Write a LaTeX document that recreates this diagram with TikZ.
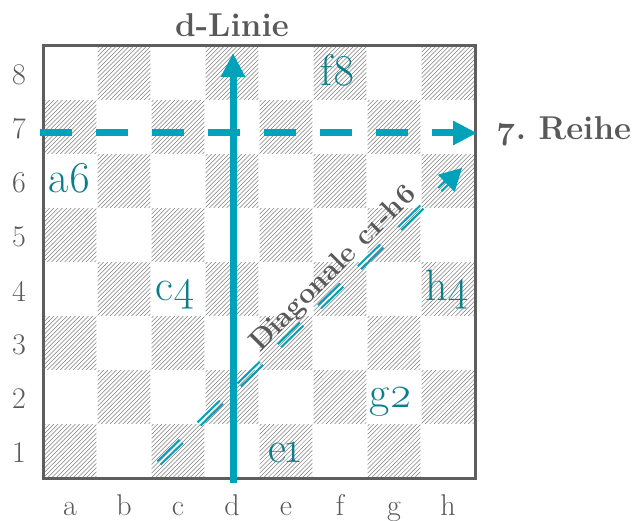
\documentclass[tikz,border=0pt]{standalone}
\usepackage{fontspec}
\setmainfont{Latin Modern Roman}
\newfontfamily\osf{Latin Modern Roman}[Numbers=OldStyle]
\usetikzlibrary{arrows.meta,calc}
\definecolor{boardgray}{HTML}{5E5E5E}
\definecolor{txtgray}{HTML}{595959}
\definecolor{hatchgray}{HTML}{808080}
\definecolor{arrowteal}{HTML}{00A2B9}
\definecolor{labelteal}{HTML}{0B7E8B}
\tikzset{
  hatchline/.style={draw=hatchgray, line width=0.5pt},
  sqlabel/.style={text=labelteal, font=\osf\fontsize{44}{44}\selectfont, inner sep=0pt, anchor=base},
  coordlabel/.style={text=txtgray, font=\fontsize{30}{30}\selectfont, inner sep=0pt},
  heading/.style={text=txtgray, font=\bfseries\fontsize{33}{33}\selectfont, inner sep=0pt, anchor=base},
  diaglabel/.style={text=txtgray, font=\bfseries\osf\fontsize{28.5}{28.5}\selectfont, inner sep=0pt, anchor=base, rotate=45},
  bigarrow/.style={draw=arrowteal, line width=7pt, -{Triangle[length=24pt,width=23pt]}},
  diagline/.style={draw=arrowteal, line width=2pt, dash pattern=on 31pt off 25pt},
}
\begin{document}
\begin{tikzpicture}[x=1pt,y=-1pt]
\useasboundingbox[fill=white] (0,0) rectangle (632,521);
% hatched dark squares (a1 dark)
\foreach \i in {0,...,7}{
  \foreach \r in {1,...,8}{
    \pgfmathtruncatemacro\sqpar{mod(\i+\r,2)}
    \ifnum\sqpar=1
      \pgfmathsetmacro\xo{43+54*\i}
      \pgfmathsetmacro\yo{46+54*(8-\r)}
      \begin{scope}
        \clip (\xo+0.7,\yo+0.7) rectangle (\xo+53.3,\yo+53.3);
        \foreach \t in {-55.9,-51.6,...,56}{
          \draw[hatchline] (\xo+\t,\yo+54) -- (\xo+\t+54,\yo);
        }
      \end{scope}
    \fi
  }
}
% board frame
\draw[boardgray, line width=3pt] (43,46) rectangle (475,478);
% coordinate labels
\foreach \n [count=\k from 1] in {8,7,6,5,4,3,2,1}{
  \node[coordlabel] (rank\n) at (19,{46+27+54*(\k-1)+2}) {\n};
}
\foreach \f [count=\k from 0] in {a,b,c,d,e,f,g,h}{
  \node[coordlabel, anchor=base] (file\f) at ({43+27+54*\k},515) {\f};
}
% headings
\node[heading] (dlinie) at (232,37) {d-Linie};
\node[heading, anchor=base west] (reihe) at (497,140) {\osf\frenchspacing 7. Reihe};
% arrows
\coordinate (dbot) at (233,483);
\coordinate (dtop) at (233,53);
\draw[bigarrow] (dbot) -- (dtop);
\coordinate (rleft) at (40,133);
\coordinate (rright) at (477,133);
\draw[bigarrow, dash pattern=on 32pt off 24pt] (rleft) -- (rright);
% diagonal
\coordinate (ds) at (159,463);
\coordinate (dt) at (462,168);
\coordinate (db) at ($(dt)!22pt!(ds)$);
\coordinate (dend) at ($(dt)!18pt!(ds)$);
\draw[diagline] ($(ds)+(-1.6,-1.6)$) -- ($(dend)+(-1.6,-1.6)$);
\draw[diagline] ($(ds)+(1.6,1.6)$) -- ($(dend)+(1.6,1.6)$);
\fill[arrowteal] ($(db)!12pt!90:(dt)$) -- (dt) -- ($(db)!12pt!-90:(dt)$) -- cycle;
\node[diaglabel] (diag) at (339,274) {Diagonale c1-h6};
% square labels
\node[sqlabel] (f8) at (338,{73+13}) {f8};
\node[sqlabel] (a6) at (70,{181+12}) {a6};
\node[sqlabel] (c4) at (175,{289+12}) {c4};
\node[sqlabel] (h4) at (447,{289+12}) {h4};
\node[sqlabel] (g2) at (391,{397+10}) {g2};
\node[sqlabel] (e1) at (285,{451+11}) {e1};
\end{tikzpicture}
\end{document}
